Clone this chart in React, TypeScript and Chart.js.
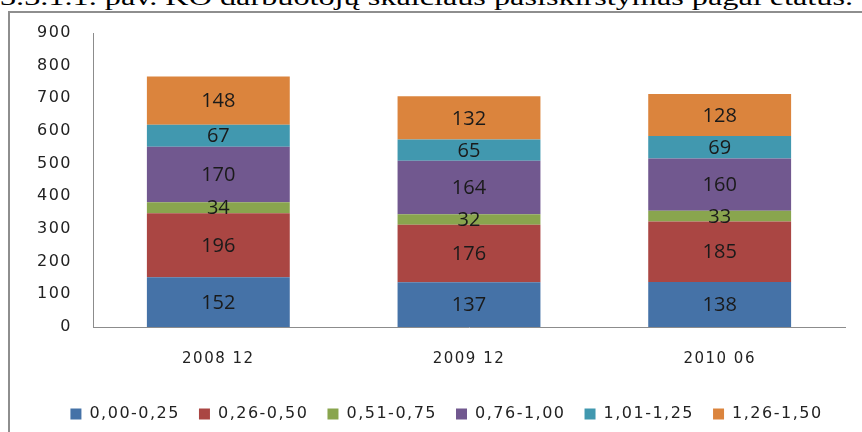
import React, { useEffect, useRef } from "react";
import { Chart, registerables } from "chart.js";

Chart.register(...registerables);

const categories = ["2008 12", "2009 12", "2010 06"];
const seriesNames = ["0,00-0,25", "0,26-0,50", "0,51-0,75", "0,76-1,00", "1,01-1,25", "1,26-1,50"];
const s000_025 = [152, 137, 138];
const s026_050 = [196, 176, 185];
const s051_075 = [34, 32, 33];
const s076_100 = [170, 164, 160];
const s101_125 = [67, 65, 69];
const s126_150 = [148, 132, 128];
const seriesValues = [s000_025, s026_050, s051_075, s076_100, s101_125, s126_150];
const seriesColors = ["#4572A7", "#AA4643", "#89A54E", "#71588F", "#4198AF", "#DB843D"];
const yMin = 0;
const yMax = 900;
const yStep = 100;
const captionText = "3.3.1.1. pav. KO darbuotojų skaičiaus pasiskirstymas pagal etatus.";

const SPACING = "1.5px";
const LEGEND_SHIFT = 24;

const spacingPlugin = {
  id: "spacingPlugin",
  beforeUpdate(chart: any) {
    (chart.ctx as any).letterSpacing = SPACING;
  },
  afterLayout(chart: any) {
    const lg = chart.legend;
    if (lg) {
      lg.left += LEGEND_SHIFT;
      lg.right += LEGEND_SHIFT;
    }
  },
  beforeDraw(chart: any) {
    (chart.ctx as any).letterSpacing = SPACING;
  },
};

const valueLabels = {
  id: "valueLabels",
  afterDatasetsDraw(chart: any) {
    const ctx = chart.ctx;
    ctx.save();
    (ctx as any).letterSpacing = "0px";
    ctx.font = '20px "Open Sans"';
    ctx.fillStyle = "#1a1a1a";
    ctx.textAlign = "center";
    ctx.textBaseline = "middle";
    chart.data.datasets.forEach((ds: any, i: number) => {
      const meta = chart.getDatasetMeta(i);
      meta.data.forEach((bar: any, j: number) => {
        const p = bar.getProps(["x", "y", "base"], true);
        ctx.fillText(String(ds.data[j]), p.x, (p.y + p.base) / 2 + 1);
      });
    });
    ctx.restore();
  },
};

export default function App() {
  const canvasRef = useRef<HTMLCanvasElement | null>(null);
  const captionRef = useRef<HTMLDivElement | null>(null);

  useEffect(() => {
    document.body.style.margin = "0";
    const cap = captionRef.current;
    if (cap) {
      const w = cap.scrollWidth;
      if (w > 0) cap.style.transform = `scaleX(${853 / w})`;
    }
    const canvas = canvasRef.current;
    if (!canvas) return;
    const chart = new Chart(canvas, {
      type: "bar",
      data: {
        labels: categories,
        datasets: seriesNames.map((name, i) => ({
          label: name,
          data: seriesValues[i],
          backgroundColor: seriesColors[i],
          borderWidth: 0,
          barPercentage: 0.57,
          categoryPercentage: 1,
        })),
      },
      options: {
        animation: false,
        responsive: false,
        maintainAspectRatio: false,
        layout: { padding: { left: 0, right: 17, top: 33, bottom: 0 } },
        plugins: {
          legend: {
            position: "bottom",
            labels: {
              boxWidth: 11,
              boxHeight: 11,
              padding: 19,
              color: "#222",
              font: { family: "DejaVu Sans", size: 16 },
            },
          },
          tooltip: { enabled: false },
          title: { display: false },
        },
        scales: {
          x: {
            stacked: true,
            grid: { display: false, drawTicks: false },
            border: { display: true, color: "#8c8c8c", width: 1 },
            ticks: {
              padding: 23,
              color: "#222",
              font: { family: "DejaVu Sans", size: 15 },
              maxRotation: 0,
            },
            afterFit: (scale: any) => {
              scale.height = 60;
            },
          },
          y: {
            stacked: true,
            min: yMin,
            max: yMax,
            grid: { display: false, drawTicks: false },
            border: { display: true, color: "#8c8c8c", width: 1 },
            ticks: {
              stepSize: yStep,
              padding: 21,
              color: "#222",
              font: { family: "DejaVu Sans", size: 16 },
            },
            afterFit: (scale: any) => {
              scale.width = 93;
            },
          },
        },
      },
      plugins: [spacingPlugin, valueLabels],
    });
    return () => chart.destroy();
  }, []);

  return (
    <div style={{ position: "fixed", left: 0, top: 0, width: 862, height: 432, overflow: "hidden", background: "#fff" }}>
      <div
        ref={captionRef}
        style={{
          position: "absolute",
          left: 0,
          top: -15,
          fontFamily: '"Liberation Serif", serif',
          fontSize: 24,
          lineHeight: "24px",
          whiteSpace: "nowrap",
          color: "#000",
          transformOrigin: "left top",
          display: "inline-block",
        }}
      >
        {captionText}
      </div>
      <div
        style={{
          position: "absolute",
          left: 8,
          top: 11,
          width: 900,
          height: 500,
          border: "2px solid #8e8e8e",
          boxSizing: "border-box",
        }}
      />
      <canvas ref={canvasRef} width={862} height={432} style={{ position: "absolute", left: 0, top: 0, width: 862, height: 432 }} />
    </div>
  );
}
